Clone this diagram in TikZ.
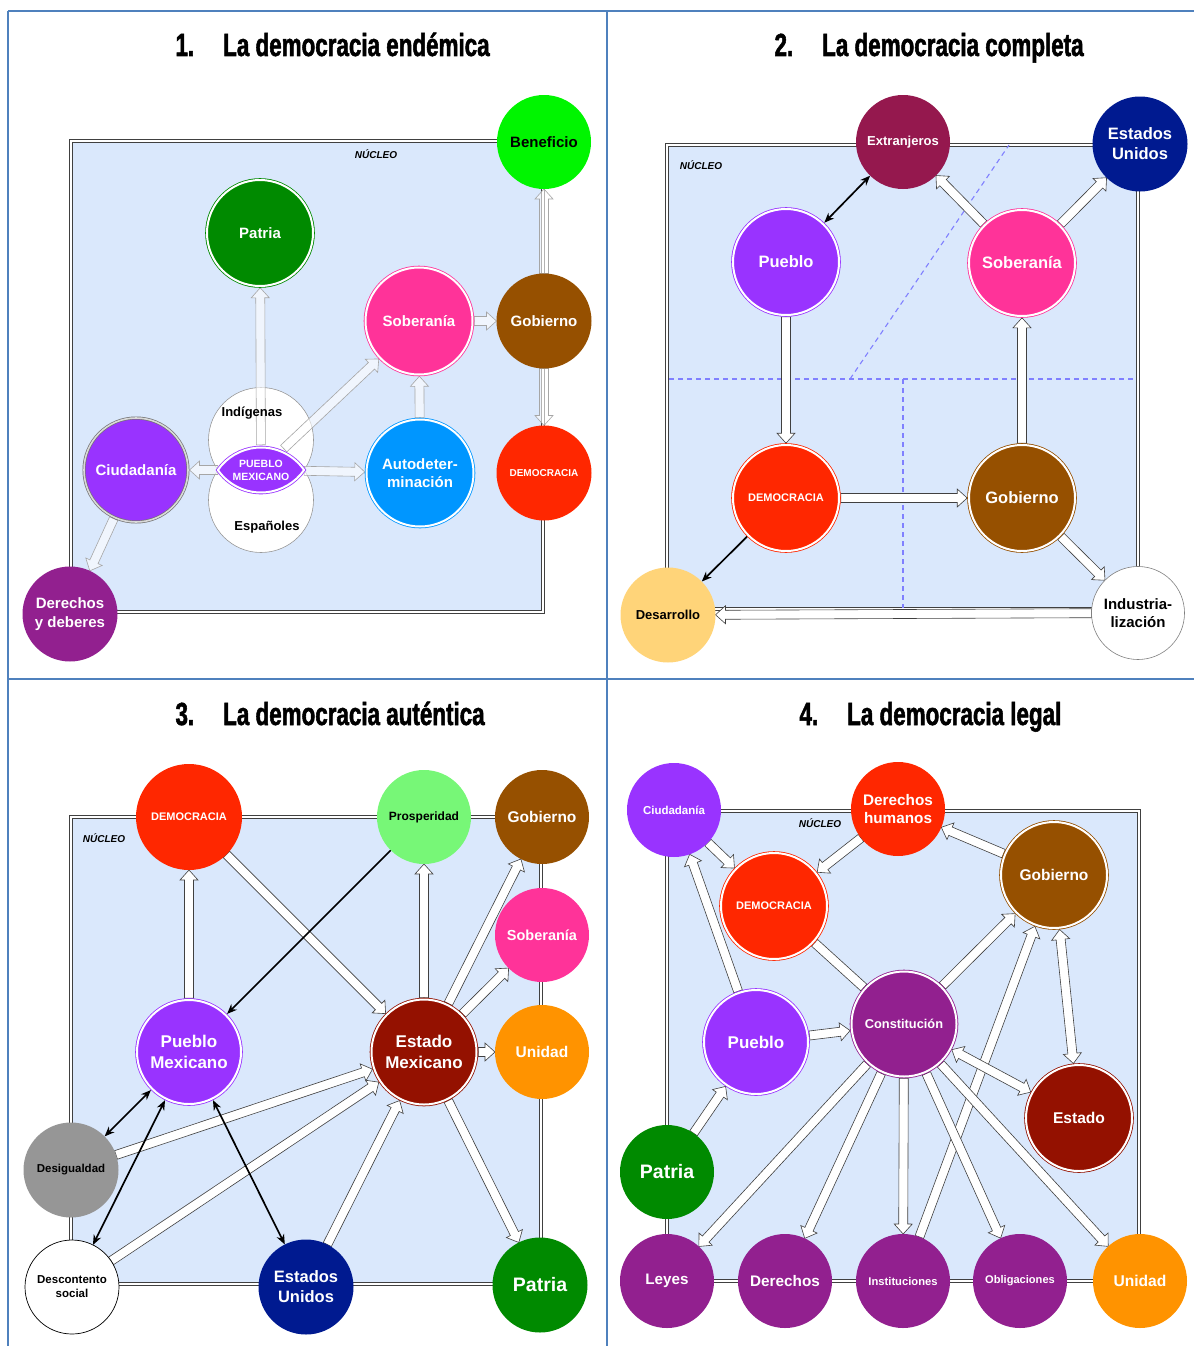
\documentclass[tikz,border=0pt]{standalone}
\usepackage{fontspec}
\setmainfont{Liberation Sans}
\newfontfamily\titlefont[FakeStretch=0.70, FakeBold=1.6]{Liberation Sans Bold}
\usetikzlibrary{calc,arrows.meta,shapes.geometric}

\definecolor{gridblue}{HTML}{4F81BD}
\definecolor{cCore}{HTML}{DAE8FC}
\definecolor{cDash}{HTML}{8080FF}
\definecolor{cPurple}{HTML}{9933FF}
\definecolor{cPink}{HTML}{FF3399}
\definecolor{cBrown}{HTML}{965000}
\definecolor{cRed}{HTML}{FF2700}
\definecolor{cLime}{HTML}{00F500}
\definecolor{cGreen}{HTML}{008A00}
\definecolor{cSky}{HTML}{0096FF}
\definecolor{cPlum}{HTML}{92208F}
\definecolor{cMaroon}{HTML}{95184E}
\definecolor{cNavy}{HTML}{001A90}
\definecolor{cSand}{HTML}{FFD479}
\definecolor{cMint}{HTML}{77F777}
\definecolor{cGrey}{HTML}{969696}
\definecolor{cBlood}{HTML}{941100}
\definecolor{cOrange}{HTML}{FF9300}

\newcommand\fsz[1]{\fontsize{#1}{\fpeval{1.22*#1}}\selectfont}

\pgfdeclarelayer{back}
\pgfdeclarelayer{links}
\pgfsetlayers{back,links,main}

\tikzset{
  gridline/.style={draw=gridblue, line width=2.4pt},
  core/.style={fill=cCore, draw=black!75, double=white, line width=0.9pt, double distance=1.8pt},
  nucleo/.style={font=\bfseries\itshape\fsz{10}, text=black},
  title/.style={anchor=base west, font=\titlefont\fsz{32}},
  disc/.style={circle, minimum size=#1pt, inner sep=0pt, outer sep=0pt, text=white, align=center},
  ring/.style={draw=#1, fill=#1, double=white, line width=0.8pt, double distance=2pt, outer sep=1.8pt},
  fs/.style={font=\bfseries\fsz{#1}},
  flex/.style={draw=black!75, fill=white, line width=0.6pt, line join=miter},
  flexA/.style={draw=black!35, fill=white, fill opacity=0.6},
  bk/.style={draw=black, line width=1.7pt, arrows={-Stealth[length=10pt,width=8pt]}},
  bkk/.style={draw=black, line width=1.7pt, arrows={Stealth[length=10pt,width=8pt]-Stealth[length=10pt,width=8pt]}},
  dashline/.style={draw=cDash, dash pattern=on 5pt off 4pt, line width=1.1pt},
}

% block arrow with one head, from #2 to #3
\newcommand\blk[3][]{%
  \begin{pgfonlayer}{links}
  \path (#2) -- coordinate[pos=0] (bS) coordinate[pos=1] (bE) (#3);
  \coordinate (bH) at ($(bE)!10pt!(bS)$);
  \draw[flex,#1] ($(bS)!4.5pt!90:(bE)$) -- ($(bH)!4.5pt!90:(bE)$) -- ($(bH)!9pt!90:(bE)$)
    -- (bE) -- ($(bH)!9pt!-90:(bE)$) -- ($(bH)!4.5pt!-90:(bE)$) -- ($(bS)!4.5pt!-90:(bE)$) -- cycle;
  \end{pgfonlayer}}
% block arrow with a head at each end
\newcommand\blkk[3][]{%
  \begin{pgfonlayer}{links}
  \path (#2) -- coordinate[pos=0] (bS) coordinate[pos=1] (bE) (#3);
  \coordinate (bH) at ($(bE)!10pt!(bS)$);
  \coordinate (bG) at ($(bS)!10pt!(bE)$);
  \draw[flex,#1] (bS) -- ($(bG)!9pt!90:(bE)$) -- ($(bG)!4.5pt!90:(bE)$) -- ($(bH)!4.5pt!90:(bE)$)
    -- ($(bH)!9pt!90:(bE)$) -- (bE) -- ($(bH)!9pt!-90:(bE)$) -- ($(bH)!4.5pt!-90:(bE)$)
    -- ($(bG)!4.5pt!-90:(bE)$) -- ($(bG)!9pt!-90:(bE)$) -- cycle;
  \end{pgfonlayer}}
% block band without heads
\newcommand\blkn[3][]{%
  \begin{pgfonlayer}{links}
  \path (#2) -- coordinate[pos=0] (bS) coordinate[pos=1] (bE) (#3);
  \draw[flex,#1] ($(bS)!4.5pt!90:(bE)$) -- ($(bE)!4.5pt!-90:(bS)$) -- ($(bE)!4.5pt!90:(bS)$)
    -- ($(bS)!4.5pt!-90:(bE)$) -- cycle;
  \end{pgfonlayer}}
% thin black arrow
\newcommand\thin[3]{%
  \begin{pgfonlayer}{links}\draw[#1] (#2) -- (#3);\end{pgfonlayer}}

\begin{document}
\begin{tikzpicture}[x=1pt, y=-1pt]
\useasboundingbox (0,0) rectangle (1194,1346);

% ---------- frame of the four panels and core boxes ----------
\begin{pgfonlayer}{back}
  \draw[gridline] (8,11) -- (1194,11);
  \draw[gridline] (8,679) -- (1194,679);
  \draw[gridline] (8,11) -- (8,1346);
  \draw[gridline] (607,11) -- (607,1346);
  \draw[core] (71,141) rectangle (543,612);
  \draw[core] (667,145) rectangle (1138,609);
  \draw[core] (71,817) rectangle (541,1284);
  \draw[core] (667,811) rectangle (1139,1281);
  % sectors of panel 2
  \draw[dashline] (669,379) -- (1136,379);
  \draw[dashline] (903,379) -- (903,608);
  \draw[dashline] (850,379) -- (1009,145);
  % the two peoples of panel 1
  \draw[fill=white, draw=black!40, line width=0.6pt] (261,440) circle[radius=52.5pt];
  \draw[fill=white, draw=black!40, line width=0.6pt] (261,500) circle[radius=52.5pt];
\end{pgfonlayer}

% ---------- titles ----------
\node[title] (t1) at (172,56) {1.\hspace{29pt}La democracia endémica};
\node[title] (t2) at (771,56) {2.\hspace{29pt}La democracia completa};
\node[title] (t3) at (172,725) {3.\hspace{29pt}La democracia auténtica};
\node[title] (t4) at (796,725) {4.\hspace{29pt}La democracia legal};

\node[nucleo] (n1) at (376,154) {NÚCLEO};
\node[nucleo] (n2) at (701,165) {NÚCLEO};
\node[nucleo] (n3) at (104,838) {NÚCLEO};
\node[nucleo] (n4) at (820,823) {NÚCLEO};

% ---------- 1. La democracia endémica ----------
\node[disc=94, fill=cLime, text=black, fs=15] (a-ben) at (544,142) {Beneficio};
\node[disc=106, ring=cGreen, fs=15] (a-pat) at (260,233) {Patria};
\node[disc=107, ring=cPink, fs=15] (a-sob) at (419,321) {Soberanía};
\node[disc=95, fill=cBrown, fs=15] (a-gob) at (544,321) {Gobierno};
\node[disc=95, fill=cRed, fs=10] (a-dem) at (544,473) {DEMOCRACIA};
\node[disc=107, ring=cSky, fs=15] (a-aut) at (420,473) {Autodeter-\\minación};
\node[disc=104, fill=cPurple, draw=black!55, double=white!85!black, line width=0.7pt,
      double distance=1.6pt, outer sep=1.5pt, fs=15] (a-ciu) at (136,470) {Ciudadanía};
\node[disc=95, fill=cPlum, fs=15] (a-der) at (70,614) {Derechos\\y deberes};
\node[fs=13, text=black] (a-ind) at (252,413) {Indígenas};
\node[fs=13, text=black] (a-esp) at (267,527) {Españoles};
\path[ring=cPurple] (304.08,470) arc[start angle=34.85, end angle=145.15, radius=52.5pt]
  arc[start angle=214.85, end angle=325.15, radius=52.5pt] -- cycle;
\node[ellipse, minimum width=86pt, minimum height=50pt, inner sep=0pt, text=white,
      align=center, fs=10.5] (a-pm) at (261,470) {PUEBLO\\MEXICANO};

\blk[flexA]{a-pm}{a-pat}
\blk[flexA]{a-pm}{a-sob}
\blk[flexA]{a-aut}{a-sob}
\blk[flexA]{a-sob}{a-gob}
\blk[flexA]{a-gob}{a-ben}
\blk[flexA]{a-gob}{a-dem}
\blk[flexA]{a-pm}{a-aut}
\blk[flexA]{a-pm}{a-ciu}
\blk[flexA]{a-ciu}{a-der}

% ---------- 2. La democracia completa ----------
\node[disc=94, fill=cMaroon, fs=13] (b-ext) at (903,142) {Extranjeros};
\node[disc=95, fill=cNavy, fs=16.5] (b-eu) at (1140,144) {Estados\\Unidos};
\node[disc=106, ring=cPurple, fs=16.5] (b-pue) at (786,262) {Pueblo};
\node[disc=106, ring=cPink, fs=16.5] (b-sob) at (1022,263) {Soberanía};
\node[disc=106, ring=cRed, fs=11] (b-dem) at (786,498) {DEMOCRACIA};
\node[disc=106, ring=cBrown, fs=16.5] (b-gob) at (1022,498) {Gobierno};
\node[disc=95, fill=cSand, text=black, fs=13] (b-des) at (668,615) {Desarrollo};
\node[disc=93, fill=white, draw=black!50, line width=0.6pt, text=black, fs=15] (b-ind) at (1138,613) {Industria-\\lización};

\thin{bkk}{b-ext}{b-pue}
\blk{b-sob}{b-ext}
\blk{b-sob}{b-eu}
\blk{b-pue}{b-dem}
\blk{b-gob}{b-sob}
\blk{b-dem}{b-gob}
\blk{b-gob}{b-ind}
\thin{bk}{b-dem}{b-des}
\blk{b-ind}{b-des}

% ---------- 3. La democracia auténtica ----------
\node[disc=106, fill=cRed, fs=11] (c-dem) at (189,817) {DEMOCRACIA};
\node[disc=94, fill=cMint, text=black, fs=12] (c-pro) at (424,817) {Prosperidad};
\node[disc=94, fill=cBrown, fs=15.5] (c-gob) at (542,817) {Gobierno};
\node[disc=94, fill=cPink, fs=14.5] (c-sob) at (542,935) {Soberanía};
\node[disc=94, fill=cOrange, fs=15.5] (c-uni) at (542,1052) {Unidad};
\node[disc=104, ring=cPurple, fs=17] (c-pue) at (189,1052) {Pueblo\\Mexicano};
\node[disc=105, ring=cBlood, fs=17] (c-est) at (424,1052) {Estado\\Mexicano};
\node[disc=95, fill=cGrey, text=black, fs=11.5] (c-desi) at (71,1170) {Desigualdad};
\node[disc=94, fill=white, draw=black, line width=0.7pt, text=black, fs=11.5] (c-desc) at (72,1287) {Descontento\\social};
\node[disc=95, fill=cNavy, fs=16.5] (c-eu) at (306,1287) {Estados\\Unidos};
\node[disc=95, fill=cGreen, fs=19.5] (c-pat) at (540,1285) {Patria};

\blk{c-pue}{c-dem}
\blk{c-dem}{c-est}
\thin{bk}{c-pro}{c-pue}
\blk{c-est}{c-pro}
\blk{c-est}{c-gob}
\blk{c-est}{c-sob}
\blk{c-est}{c-uni}
\blk{c-est}{c-pat}
\blk{c-desi}{c-est}
\blk{c-desc}{c-est}
\blk{c-eu}{c-est}
\thin{bkk}{c-desi}{c-pue}
\thin{bkk}{c-desc}{c-pue}
\thin{bkk}{c-pue}{c-eu}

% ---------- 4. La democracia legal ----------
\node[disc=94, fill=cPurple, fs=11.5] (d-ciu) at (674,810) {Ciudadanía};
\node[disc=94, fill=cRed, fs=15.3] (d-dh) at (898,809) {Derechos\\humanos};
\node[disc=106, ring=cRed, fs=11] (d-dem) at (774,906) {DEMOCRACIA};
\node[disc=106, ring=cBrown, fs=15.5] (d-gob) at (1054,875) {Gobierno};
\node[disc=104, ring=cPurple, fs=17] (d-pue) at (756,1042) {Pueblo};
\node[disc=105, ring=cPlum, fs=12.8] (d-con) at (904,1024) {Constitución};
\node[disc=106, ring=cBlood, fs=15.6] (d-est) at (1079,1118) {Estado};
\node[disc=94, fill=cGreen, fs=19.5] (d-pat) at (667,1172) {Patria};
\node[disc=94, fill=cPlum, fs=15.2] (d-ley) at (667,1281) {Leyes};
\node[disc=94, fill=cPlum, fs=15.3] (d-der) at (785,1281) {Derechos};
\node[disc=94, fill=cPlum, fs=11.2] (d-ins) at (903,1281) {Instituciones};
\node[disc=94, fill=cPlum, fs=11.1] (d-obl) at (1020,1281) {Obligaciones};
\node[disc=94, fill=cOrange, fs=15.6] (d-uni) at (1140,1281) {Unidad};

\blk{d-ciu}{d-dem}
\blk{d-dh}{d-dem}
\blk{d-gob}{d-dh}
\blkn{d-dem}{d-con}
\blk{d-con}{d-gob}
\blk{d-ins}{d-gob}
\blkk{d-gob}{d-est}
\blkk{d-con}{d-est}
\blk{d-pue}{d-con}
\blk{d-pat}{d-pue}
\blk{d-pue}{d-ciu}
\blk{d-con}{d-ley}
\blk{d-con}{d-der}
\blk{d-con}{d-ins}
\blk{d-con}{d-obl}
\blk{d-con}{d-uni}

\end{tikzpicture}
\end{document}
